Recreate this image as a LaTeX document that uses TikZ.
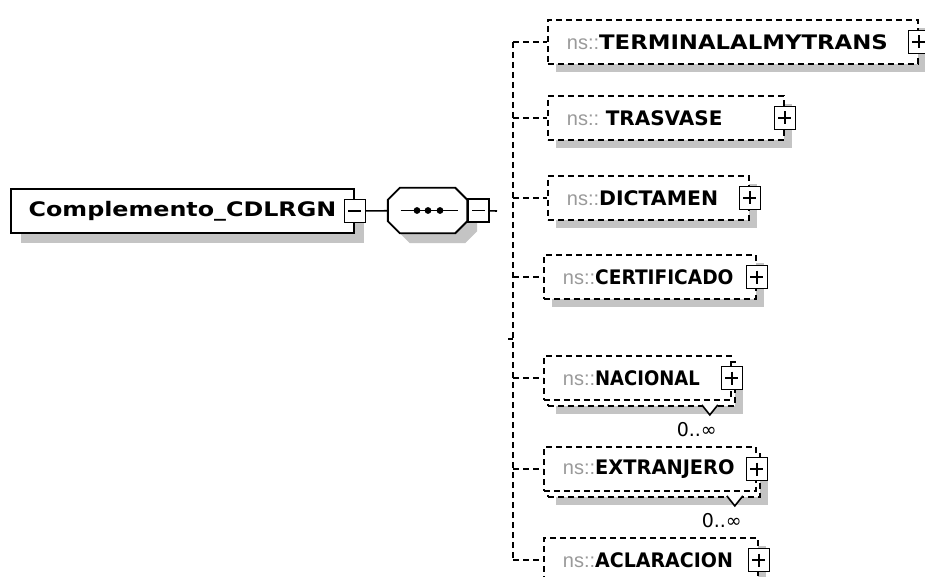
\documentclass[tikz,border=0pt]{standalone}
\usepackage{graphicx}
\usepackage{fontspec}
\setmainfont{DejaVu Sans}
\newfontfamily\nsfont{Liberation Sans}
\usetikzlibrary{shadows,calc}
\definecolor{nsgray}{HTML}{9A9A9A}
\definecolor{shadowgray}{HTML}{C4C4C4}
\newcommand{\nsnm}{{\nsfont\color{nsgray}ns::}}
\newcommand{\nm}[2]{\scalebox{#1}[1]{\textbf{#2}}}

\begin{document}
\begin{tikzpicture}[x=1pt,y=-1pt,
  raiz/.style={draw,line width=1.9pt,fill=white,minimum width=343pt,minimum height=44pt,inner sep=0pt,
    font=\fontsize{20}{24}\selectfont,drop shadow={shadow xshift=10pt,shadow yshift=-10pt,fill=shadowgray,opacity=1}},
  elem/.style={draw,dash pattern=on 6pt off 4pt,line width=1.8pt,fill=white,minimum height=44pt,
    inner xsep=19pt,inner ysep=0pt,align=left,anchor=west,font=\fontsize{20}{24}\selectfont},
  sombra/.style={drop shadow={shadow xshift=8pt,shadow yshift=-8pt,fill=shadowgray,opacity=1}},
  octsombra/.style={fill=shadowgray,transform canvas={xshift=10pt,yshift=-10pt}},
  octborda/.style={draw,line width=1.9pt,fill=white},
  caixa/.style={draw,line width=1.6pt,fill=white,minimum width=21pt,minimum height=23pt,inner sep=0pt},
  mais/.style={caixa,path picture={\draw[line width=1.6pt]
    ($(path picture bounding box.center)+(-6.5,0)$) -- +(13,0)
    ($(path picture bounding box.center)+(0,-6.5)$) -- +(0,13);}},
  menos/.style={caixa,path picture={\draw[line width=1.6pt]
    ($(path picture bounding box.center)+(-6.5,0)$) -- +(13,0);}},
  conn/.style={line width=1.8pt,dash pattern=on 6pt off 4pt},
  linha/.style={line width=1.6pt},
  ocor/.style={font=\fontsize{19}{22}\selectfont}
]
\useasboundingbox[fill=white] (0,0) rectangle (925,577);

\node[raiz,anchor=west] (raiz) at (10,211) {\nm{1.19}{Complemento\_CDLRGN}};
\node[menos] (raizmenos) at (raiz.east) {};
\node[minimum width=79pt,minimum height=45pt,inner sep=0pt] (seq) at (427.5,210.5) {};
\foreach \estilo in {octsombra,octborda}
  \path[\estilo] ($(seq.north west)+(12,0)$) -- ($(seq.north east)+(-12,0)$) -- ($(seq.north east)+(0,12)$)
    -- ($(seq.south east)+(0,-12)$) -- ($(seq.south east)+(-12,0)$) -- ($(seq.south west)+(12,0)$)
    -- ($(seq.south west)+(0,-12)$) -- ($(seq.north west)+(0,12)$) -- cycle;
\node[menos,anchor=west] (seqmenos) at (seq.east) {};
\coordinate (fimseq) at (497,211);
\coordinate (espinha) at (513,0);
\draw[linha] (raizmenos) -- (seq);
\draw[linha] (seqmenos) -- (fimseq);
\draw[linha] ($(seq.center)+(-27,0)$) -- ($(seq.center)+(30,0)$);
\foreach \dx in {-10.5,0.5,12.5}
  \fill ($(seq.center)+(\dx,0)$) circle (3.4);

\node[elem,sombra,text width=332pt] (terminal) at (547,42) {\nsnm\nm{1.14}{TERMINALALMYTRANS}};
\node[elem,sombra,text width=198pt] (trasvase) at (547,118) {\nsnm\ \nm{1}{TRASVASE}};
\node[elem,sombra,text width=163pt] (dictamen) at (547,198) {\nsnm\nm{1.02}{DICTAMEN}};
\node[elem,sombra,text width=174pt] (certificado) at (543,277) {\nsnm\nm{0.93}{CERTIFICADO}};
\node[elem,sombra,text width=149pt] (nacionalfundo) at (547,384) {};
\node[elem,text width=149pt] (nacional) at (543,378) {\nsnm\nm{0.9}{NACIONAL}};
\node[elem,sombra,text width=174pt] (extranjerofundo) at (547,475) {};
\node[elem,text width=174pt] (extranjero) at (543,469) {\nsnm\nm{0.97}{EXTRANJERO}};
\node[elem,sombra,text width=176pt] (aclaracion) at (543,560) {\nsnm\nm{0.95}{ACLARACION}};

\foreach \n in {terminal,trasvase,dictamen,certificado,nacional,extranjero,aclaracion}
  \node[mais] (\n mais) at (\n.east) {};

\foreach \n in {nacionalfundo,extranjerofundo}
  \draw[linha,fill=white] ($(\n.south east)+(-34,-2)$) -- ++(8,10) -- ++(8,-10);
\node[ocor] (nacionalocor) at ($(nacionalfundo.south east)+(-39,23)$) {0..∞};
\node[ocor] (extranjeroocor) at ($(extranjerofundo.south east)+(-39,23)$) {0..∞};

\draw[conn] (espinha |- terminal.west) -- (espinha |- aclaracion.west);
\foreach \n in {terminal,trasvase,dictamen,certificado,nacional,extranjero,aclaracion}
  \draw[conn] (espinha |- \n.west) -- (\n.west);
\draw[linha] (508,339) -- (espinha |- 0,339);
\end{tikzpicture}
\end{document}
